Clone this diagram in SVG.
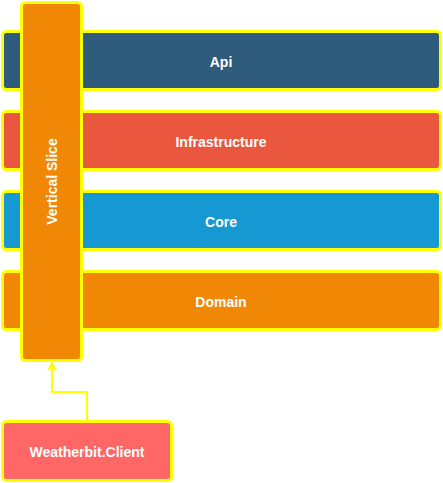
<svg xmlns="http://www.w3.org/2000/svg" width="443" height="483" viewBox="0 0 443 483">
<style>
.box{stroke:#FFFF00;stroke-width:3}
.lbl{font-family:"Liberation Sans",Arial,sans-serif;font-size:14px;font-weight:bold;fill:#FFFFFF;text-anchor:middle;dominant-baseline:central}
.conn{fill:none;stroke:#FFFF00;stroke-width:2}
</style>
<defs>
<marker id="arr" markerWidth="10" markerHeight="10" refX="5" refY="5" orient="auto" markerUnits="userSpaceOnUse" viewBox="0 0 10 10">
<path d="M0,0 L10,5 L0,10 L2.5,5 Z" fill="#FFFF00"/>
</marker>
</defs>
<g id="api"><rect class="box" x="2.5" y="31.5" width="438" height="58" rx="4" fill="#2F5B7C"/><text class="lbl" x="221" y="61.5">Api</text></g>
<g id="infrastructure"><rect class="box" x="2.5" y="111.5" width="438" height="58" rx="4" fill="#E9573F"/><text class="lbl" x="221" y="141.5">Infrastructure</text></g>
<g id="core"><rect class="box" x="2.5" y="191.5" width="438" height="58" rx="4" fill="#1699D3"/><text class="lbl" x="221" y="221.5">Core</text></g>
<g id="domain"><rect class="box" x="2.5" y="271.5" width="438" height="58" rx="4" fill="#F08705"/><text class="lbl" x="221" y="301.5">Domain</text></g>
<g id="vertical-slice"><rect class="box" x="21.5" y="2.5" width="60" height="358" rx="4" fill="#F08705"/><text class="lbl" transform="translate(51.5,181.5) rotate(-90)" x="0" y="0">Vertical Slice</text></g>
<g id="weatherbit-client"><rect class="box" x="2.5" y="421.5" width="169" height="59" rx="4" fill="#FF6666"/><text class="lbl" x="87" y="451.5">Weatherbit.Client</text></g>
<g id="connectors"><path class="conn" d="M87,420 L87,392 L52,392 L52,366" marker-end="url(#arr)"/></g>
</svg>
